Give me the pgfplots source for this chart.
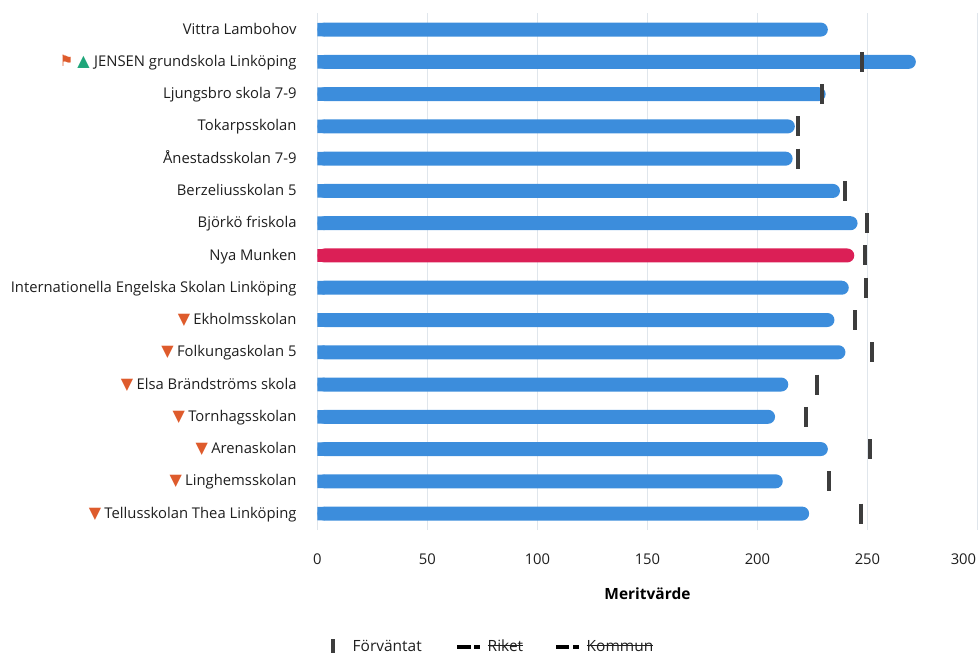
\documentclass[border=0pt]{standalone}
\usepackage{fontspec}
\usepackage{pgfplots}
\pgfplotsset{compat=1.18}
\setmainfont{Open Sans}
\newfontfamily\symfont{DejaVu Sans}
\definecolor{barblue}{RGB}{60,141,220}
\definecolor{barred}{RGB}{219,31,86}
\definecolor{expgrey}{RGB}{61,61,61}
\definecolor{gridc}{RGB}{224,230,236}
\definecolor{txt}{RGB}{30,30,30}
\definecolor{warn}{RGB}{222,91,44}
\definecolor{up}{RGB}{31,166,122}
\newcommand{\down}{{\color{warn}\symfont\fontsize{12}{10}\selectfont ▼}\hspace{2.5pt}}
\newcommand{\upp}{{\color{up}\symfont\fontsize{12}{10}\selectfont ▲}\hspace{3.5pt}}
\newcommand{\flag}{{\color{warn}\symfont\fontsize{11.5}{10}\selectfont ⚑}\hspace{3pt}}
\newcommand{\strike}[1]{\setbox0\hbox{#1}\leavevmode\rlap{\rule[4.1pt]{\wd0}{0.7pt}}\box0}
\begin{document}
\begin{tikzpicture}
\path[use as bounding box] (-238.1pt,-92.65pt) rectangle (495.4pt,397.3pt);
\begin{axis}[
    scale only axis,
    width=495pt, height=387.2pt,
    xmin=0, xmax=300,
    ymin=-0.5, ymax=15.5,
    y dir=reverse,
    xtick={0,50,100,150,200,250,300},
    xticklabels={0,50,100,150,200,250,300\hspace*{21pt}},
    ytick={0,...,15},
    yticklabels={
        Vittra Lambohov,
        \flag\upp JENSEN grundskola Linköping,
        Ljungsbro skola 7-9,
        Tokarpsskolan,
        Ånestadsskolan 7-9,
        Berzeliusskolan 5,
        Björkö friskola,
        Nya Munken,
        Internationella Engelska Skolan Linköping,
        \down Ekholmsskolan,
        \down Folkungaskolan 5,
        \down Elsa Brändströms skola,
        \down Tornhagsskolan,
        \down Arenaskolan,
        \down Linghemsskolan,
        \down Tellusskolan Thea Linköping},
    xmajorgrids=true,
    grid style={gridc, line width=0.75pt},
    axis line style={draw=none},
    major tick style={draw=none},
    tick label style={font=\fontsize{11.1}{13}\selectfont, text=txt, /pgf/number format/assume math mode=true},
    yticklabel style={inner sep=0pt, xshift=-15.5pt, yshift=-0.4pt, text height=8.5pt, text depth=2.5pt},
    xticklabel style={inner sep=0pt, anchor=center, yshift=-22pt},
    xlabel={\textbf{Meritvärde}},
    xlabel style={font=\fontsize{11.6}{13}\selectfont, text=black, at={(axis description cs:0.5,0)}, anchor=center, yshift=-48pt},
]
\addplot[forget plot, xbar, bar shift=0pt, bar width=10.5pt, fill=barblue, draw=none, rounded corners=5.25pt]
    coordinates {(232,0)(272,1)(231,2)(217,3)(216,4)(237.5,5)(245.5,6)
                 (241.5,8)(235,9)(240,10)(214,11)(208,12)(232,13)(211.5,14)(223.5,15)};
\addplot[forget plot, xbar, bar shift=0pt, bar width=10.5pt, fill=barred, draw=none, rounded corners=5.25pt]
    coordinates {(244,7)};
% square off the left ends of the bars
\addplot[forget plot, xbar, bar shift=0pt, bar width=10.2pt, fill=barblue, draw=none]
    coordinates {(3.2,0)(3.2,1)(3.2,2)(3.2,3)(3.2,4)(3.2,5)(3.2,6)(3.2,8)(3.2,9)(3.2,10)(3.2,11)(3.2,12)(3.2,13)(3.2,14)(3.2,15)};
\addplot[forget plot, xbar, bar shift=0pt, bar width=10.2pt, fill=barred, draw=none]
    coordinates {(3.2,7)};
% expected values
\addplot[only marks, color=expgrey, mark=|, mark size=7.5pt, mark options={line width=3pt, color=expgrey}, forget plot]
    coordinates {(247.5,1)(229.5,2)(218.5,3)(218.5,4)(240,5)(250,6)(249,7)(249.5,8)
                 (244.5,9)(252,10)(227,11)(222,12)(251,13)(232.5,14)(247,15)};
\end{axis}
% legend, laid out by hand
\fill[expgrey] (10.5pt,-81.75pt) rectangle (13.5pt,-92.65pt);
\node[anchor=base west, inner sep=0pt, text=txt, font=\fontsize{11.6}{13}\selectfont] at (26.25pt,-91.4pt) {Förväntat};
\fill[black] (105pt,-89.2pt) rectangle (115.5pt,-86.6pt);
\fill[black] (117.75pt,-89.2pt) rectangle (122.25pt,-86.6pt);
\node[anchor=base west, inner sep=0pt, text=txt, font=\fontsize{11.6}{13}\selectfont] at (127.5pt,-91.4pt) {\strike{Riket}};
\fill[black] (179.25pt,-89.2pt) rectangle (189pt,-86.6pt);
\fill[black] (192pt,-89.2pt) rectangle (196.5pt,-86.6pt);
\node[anchor=base west, inner sep=0pt, text=txt, font=\fontsize{11.6}{13}\selectfont] at (201.75pt,-91.4pt) {\strike{Kommun}};
\end{tikzpicture}
\end{document}
